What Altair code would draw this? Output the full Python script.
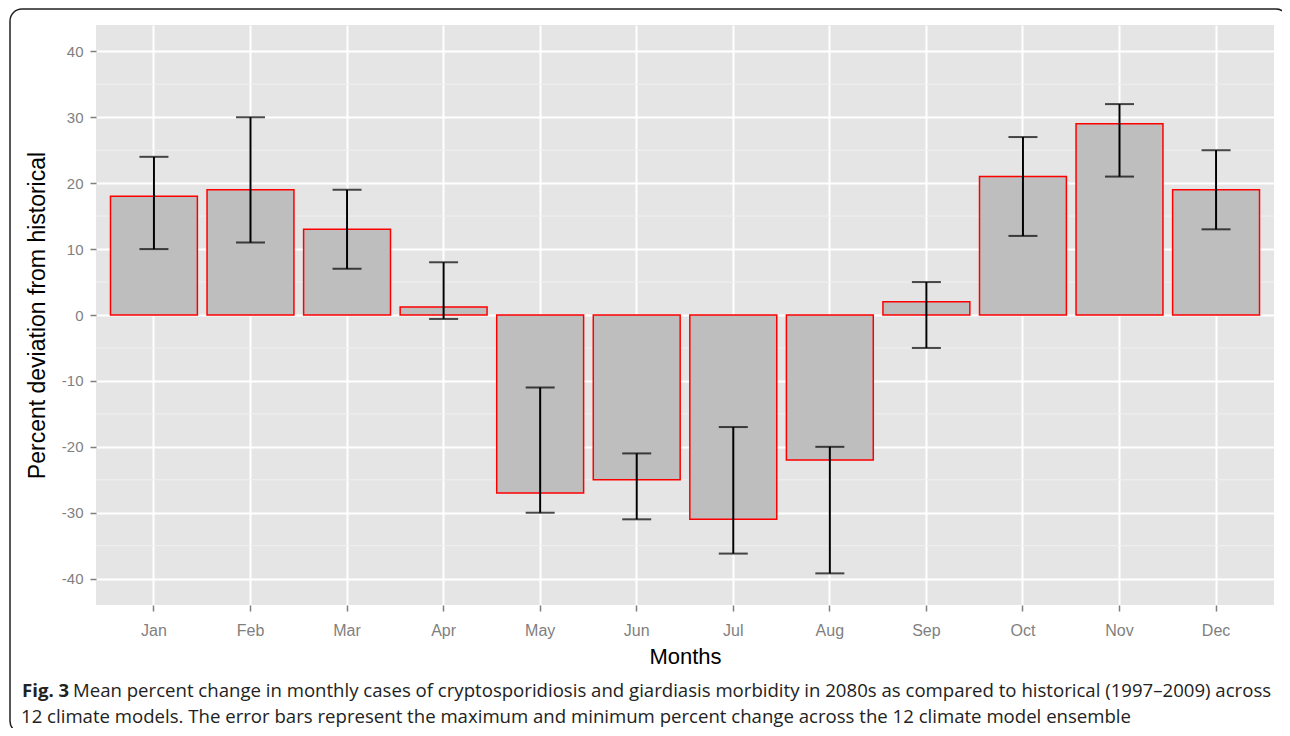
import altair as alt
import pandas as pd

months = ["Jan", "Feb", "Mar", "Apr", "May", "Jun", "Jul", "Aug", "Sep", "Oct", "Nov", "Dec"]
mean_change = [18, 19, 13, 1.2, -27, -25, -31, -22, 2, 21, 29, 19]
max_change = [24, 30, 19, 8, -11, -21, -17, -20, 5, 27, 32, 25]
min_change = [10, 11, 7, -0.6, -30, -31, -36.2, -39.2, -5, 12, 21, 13]
y_ticks = [-40, -30, -20, -10, 0, 10, 20, 30, 40]
minor_grid = [-35, -25, -15, -5, 5, 15, 25, 35]
caption_bold = ["Fig. 3"]
caption_line1 = ["Mean percent change in monthly cases of cryptosporidiosis and giardiasis morbidity in 2080s as compared to historical (1997\u20132009) across"]
caption_line2 = ["12 climate models. The error bars represent the maximum and minimum percent change across the 12 climate model ensemble"]

df = pd.DataFrame({"month": months, "mean": mean_change, "hi": max_change, "lo": min_change})
grid_df = pd.DataFrame({"g": minor_grid})

W, H = 1178, 580
PL, PT = 88, 17
CW, CH = 1274, 720

x_enc = alt.X("month:N", sort=months,
              scale=alt.Scale(paddingInner=0.1, paddingOuter=0.15),
              axis=alt.Axis(title="Months", labelAngle=0, bandPosition=0.5,
                            grid=True, gridColor="white", gridWidth=2,
                            domain=False, tickColor="#7F7F7F", tickSize=6, tickWidth=1.5,
                            labelColor="#7F7F7F", labelFont="Liberation Sans", labelFontSize=16,
                            labelPadding=11,
                            titleFont="Liberation Sans", titleFontSize=22, titleFontWeight="normal",
                            titleColor="black", titlePadding=8))
y_scale = alt.Scale(domain=[-44, 44], nice=False, zero=False)

grid = alt.Chart(grid_df).mark_rule(color="#F0F0F0", strokeWidth=1).encode(
    y=alt.Y("g:Q", scale=y_scale)
)

bars = alt.Chart(df).mark_bar(fill="#BEBEBE", stroke="#FF0000", strokeWidth=1.5).encode(
    x=x_enc,
    y=alt.Y("mean:Q", scale=y_scale,
            axis=alt.Axis(title="Percent deviation from historical", values=y_ticks,
                          labelExpr="toString(datum.value)",
                          grid=True, gridColor="white", gridWidth=2, domain=False,
                          tickColor="#7F7F7F", tickSize=6, tickWidth=1.5,
                          labelColor="#7F7F7F", labelFont="Liberation Sans", labelFontSize=15,
                          labelPadding=7,
                          titleFont="Liberation Sans", titleFontSize=23, titleFontWeight="normal",
                          titleColor="black", titlePadding=12)),
    y2=alt.datum(0),
)

rules = alt.Chart(df).mark_rule(color="black", strokeWidth=2).encode(
    x=alt.X("month:N", sort=months), y=alt.Y("lo:Q", scale=y_scale), y2="hi:Q"
)
cap_hi = alt.Chart(df).mark_tick(color="black", thickness=2, size=29, orient="horizontal").encode(
    x=alt.X("month:N", sort=months), y=alt.Y("hi:Q", scale=y_scale)
)
cap_lo = alt.Chart(df).mark_tick(color="black", thickness=2, size=29, orient="horizontal").encode(
    x=alt.X("month:N", sort=months), y=alt.Y("lo:Q", scale=y_scale)
)

border = alt.Chart(pd.DataFrame({"a": [0]})).mark_rect(
    filled=False, stroke="#222222", strokeWidth=1.5, cornerRadius=12
).encode(x=alt.value(10 - 8 - PL), x2=alt.value(1288 - 8 - PL),
         y=alt.value(9 - 8 - PT), y2=alt.value(733 - 8 - PT))

t_bold = alt.Chart(pd.DataFrame({"t": caption_bold})).mark_text(
    font="Open Sans", fontSize=18.6, fontWeight="bold", align="left", baseline="alphabetic", color="#222222"
).encode(text="t:N", x=alt.value(22 - 8 - PL), y=alt.value(697 - 8 - PT))
t_l1 = alt.Chart(pd.DataFrame({"t": caption_line1})).mark_text(
    font="Open Sans", fontSize=18.6, align="left", baseline="alphabetic", color="#222222"
).encode(text="t:N", x=alt.value(73 - 8 - PL), y=alt.value(697 - 8 - PT))
t_l2 = alt.Chart(pd.DataFrame({"t": caption_line2})).mark_text(
    font="Open Sans", fontSize=18.6, align="left", baseline="alphabetic", color="#222222"
).encode(text="t:N", x=alt.value(21 - 8 - PL), y=alt.value(723 - 8 - PT))

chart = alt.layer(grid, bars, rules, cap_hi, cap_lo, border, t_bold, t_l1, t_l2).properties(
    width=W, height=H,
    autosize=alt.AutoSizeParams(type="none"),
    padding={"left": PL, "top": PT, "right": CW - PL - W, "bottom": CH - PT - H},
    background="white",
).configure_view(fill="#E5E5E5", strokeWidth=0)

chart.save("out.html", embed_options={"renderer": "svg", "actions": False})
